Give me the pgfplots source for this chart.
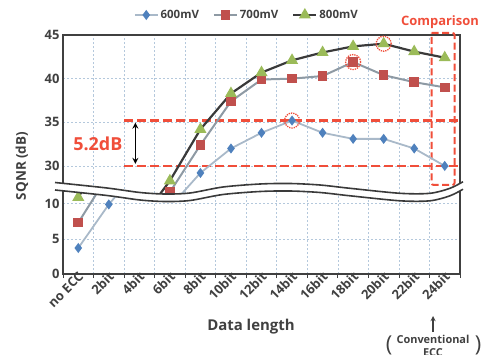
\documentclass[border=0pt]{standalone}
\usepackage{fontspec}
\setmainfont{Open Sans}
\usepackage{pgfplots}
\usepackage{pgfplotstable}
\pgfplotsset{compat=1.18}
\definecolor{c600}{HTML}{4F81BD}
\definecolor{c700}{HTML}{C0504D}
\definecolor{c800}{HTML}{9BBB59}
\definecolor{l600}{HTML}{A9B9C9}
\definecolor{l700}{HTML}{8E9AA4}
\definecolor{l800}{HTML}{3A3A3A}
\definecolor{ann}{HTML}{F04E3A}
\definecolor{gridc}{HTML}{B4C8DC}
\definecolor{axc}{HTML}{404040}

\pgfplotstableread{
x v600 v700 v800
0 3.7 7.3 10.9
1 9.9 14.2 18.0
2 15.0 21.0 23.6
3 25.3 27.0 28.3
4 29.2 32.4 34.2
5 32.0 37.4 38.3
6 33.8 39.9 40.7
7 35.2 40.0 42.1
8 33.8 40.3 43.0
9 33.1 41.9 43.7
10 33.1 40.4 44.0
11 32.0 39.6 43.1
12 30.0 39.0 42.4
}\data

\pgfplotsset{
  common/.style={
    scale only axis, width=397bp,
    xmin=-0.5, xmax=12.5,
    axis line style={draw=axc, line width=1.1bp},
    xtick={0,...,12},
    minor xtick={0.5,1.5,...,11.5},
    xminorgrids=true, ymajorgrids=true,
    grid style={gridc, dash pattern=on 2bp off 2bp, line width=0.7bp},
    minor grid style={gridc, dash pattern=on 2bp off 2bp, line width=0.7bp},
    major tick length=0pt,
    tick style={axc, line width=0.8bp},
    yticklabel style={font=\bfseries\fontsize{13}{14}\selectfont, text=axc},
    /pgf/number format/assume math mode=true,
  },
  s600/.style={l600, line width=1.8bp, mark=diamond*, mark size=3.6bp, mark options={fill=c600, draw=c600, solid}},
  s700/.style={l700, line width=2bp, mark=square*, mark size=3.8bp, mark options={fill=c700, draw=c700, solid}},
  s800/.style={l800, line width=2.2bp, mark=triangle*, mark size=4.8bp, mark options={fill=c800, draw=c800, solid}},
}

\begin{document}
\begin{tikzpicture}
\useasboundingbox (0,0) rectangle (483bp,-355bp);

% ---------- upper part ----------
\begin{scope}
\clip[x=1bp,y=-1bp] (-10,-10) -- (500,-10) -- (500,185.5) -- plot[smooth] coordinates {(463,185.5) (450,192) (430,197) (400,197) (350,192) (320,188.75) (290,187.25) (260,187.75) (223,190.75) (190,196.75) (165,197.75) (140,196.25) (107,191.75) (55,186.25)} -- (-10,186.25) -- cycle;
\begin{axis}[common,
  at={(63bp,-35bp)}, anchor=north west,
  height=161.5bp, ymin=26.5, ymax=45,
  ytick={30,35,40,45},
  xticklabels={},
  minor tick length=0pt,
  clip=false,
  legend style={at={(0.463,1.124)}, anchor=center, draw=none, fill=none,
    legend columns=3, font=\bfseries\fontsize{11.5}{12}\selectfont, text=axc,
    /tikz/every even column/.append style={column sep=12bp}},
  legend image code/.code={\draw[mark repeat=2,mark phase=2,#1] plot coordinates {(0bp,0bp) (11.5bp,0bp) (23bp,0bp)};},
]
% annotations
\addplot[forget plot, ann, line width=2.4bp, dash pattern=on 9bp off 4bp] coordinates {(1.5,35.2) (12.5,35.2)};
\addplot[forget plot, ann, line width=2.4bp, dash pattern=on 9bp off 4bp] coordinates {(1.5,30.0) (12.5,30.0)};
\addplot[forget plot, ann, line width=2bp, dash pattern=on 7bp off 3.5bp, rounded corners=2bp] coordinates {(11.57,45.23) (12.32,45.23) (12.32,27.82) (11.57,27.82) (11.57,45.23)};
\addplot[forget plot, black, line width=1.6bp, <->, >=stealth] coordinates {(1.87,34.95) (1.87,30.25)};
\node[text=ann, font=\bfseries\fontsize{18}{20}\selectfont] at (axis cs:0.64,32.5) {5.2dB};
% data
\addplot[s600] table[x=x, y=v600] {\data};
\addlegendentry{600mV}
\addplot[s700] table[x=x, y=v700] {\data};
\addlegendentry{700mV}
\addplot[s800] table[x=x, y=v800] {\data};
\addlegendentry{800mV}
% highlight circles
\addplot[forget plot, only marks, mark=o, mark size=7.5bp, mark options={draw=ann, line width=1.3bp, densely dotted}] coordinates {(7,35.2) (9,41.9) (10,44.0)};
\end{axis}
\end{scope}

% ---------- lower part ----------
\begin{scope}
\clip[x=1bp,y=-1bp] (-10,186.25) -- plot[smooth] coordinates {(55,186.25) (107,191.75) (140,196.25) (165,197.75) (190,196.75) (223,190.75) (260,187.75) (290,187.25) (320,188.75) (350,192) (400,197) (430,197) (450,192) (463,185.5)} -- (500,185.5) -- (500,400) -- (-10,400) -- cycle;
\begin{axis}[common,
  at={(63bp,-274bp)}, anchor=south west,
  height=94.9bp, ymin=0, ymax=13.5,
  ytick={0,5,10},
  minor xtick={-0.5,0.5,1.5,...,12.5},
  minor tick length=4bp, tick align=outside, xtick pos=lower,
  xticklabels={no ECC,2bit,4bit,6bit,8bit,10bit,12bit,14bit,16bit,18bit,20bit,22bit,24bit},
  xticklabel style={rotate=45, anchor=east, font=\bfseries\fontsize{13}{14}\selectfont, text=axc, inner sep=1bp, xshift=3bp, yshift=-2bp},
]
\addplot[s600] table[x=x, y=v600] {\data};
\addplot[s700] table[x=x, y=v700] {\data};
\addplot[s800] table[x=x, y=v800] {\data};
\end{axis}
\end{scope}

% ---------- break band ----------
\fill[white, x=1bp, y=-1bp] plot[smooth] coordinates {(55,182.5) (107,188) (140,192.5) (165,194) (190,193) (223,187) (260,184) (290,183.5) (320,185) (350,188.3) (400,193.3) (430,193.3) (450,188.3) (463,181.7)} -- plot[smooth] coordinates {(463,189.2) (450,195.8) (430,200.8) (400,200.8) (350,195.8) (320,192.5) (290,191) (260,191.5) (223,194.5) (190,200.5) (165,201.5) (140,200) (107,195.5) (55,190)} -- cycle;
\draw[l800, line width=1.6bp, x=1bp, y=-1bp] plot[smooth] coordinates {(55,182.5) (107,188) (140,192.5) (165,194) (190,193) (223,187) (260,184) (290,183.5) (320,185) (350,188.3) (400,193.3) (430,193.3) (450,188.3) (463,181.7)};
\draw[l800, line width=1.6bp, x=1bp, y=-1bp] plot[smooth] coordinates {(55,190) (107,195.5) (140,200) (165,201.5) (190,200.5) (223,194.5) (260,191.5) (290,191) (320,192.5) (350,195.8) (400,200.8) (430,200.8) (450,195.8) (463,189.2)};

% ---------- labels ----------
\node[rotate=90, font=\bfseries\fontsize{13.5}{14}\selectfont, text=axc] at (22bp,-166bp) {SQNR (dB)};
\node[font=\bfseries\fontsize{15}{16}\selectfont, text=axc] at (251bp,-327bp) {Data length};
\node[font=\bfseries\fontsize{13}{14}\selectfont, text=ann] at (440bp,-22bp) {Comparison};
\draw[axc, line width=1.3bp, -stealth] (433bp,-332bp) -- (433bp,-316bp);
\node[font=\bfseries\fontsize{11}{12}\selectfont, text=axc] at (433bp,-339bp) {Conventional};
\node[font=\bfseries\fontsize{11}{12}\selectfont, text=axc] at (433bp,-353bp) {ECC};
\node[font=\fontsize{22}{24}\selectfont, text=axc] at (389bp,-345bp) {(};
\node[font=\fontsize{22}{24}\selectfont, text=axc] at (478bp,-345bp) {)};
\end{tikzpicture}
\end{document}
